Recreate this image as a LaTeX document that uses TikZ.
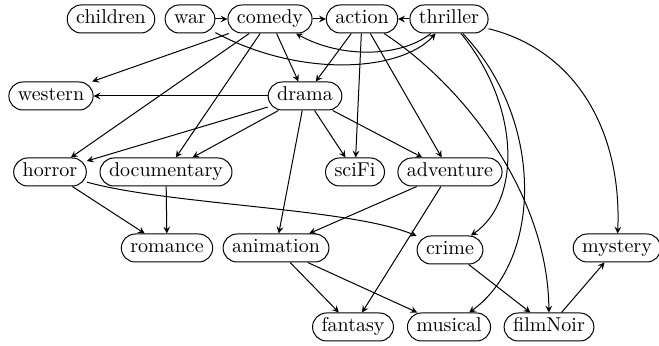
\documentclass[tikz,border=0pt]{standalone}
\begin{document}
\begin{tikzpicture}[x=0.5pt,y=-0.5pt]
	\tikzset{g/.style={draw,rectangle,rounded corners=7pt,minimum height=14pt,inner xsep=4.5pt,inner ysep=2.5pt,text height=7pt,text depth=2pt,line width=0.5pt}}
	\useasboundingbox(0,0)rectangle(659,346);
	%%Hàng trên
	\path(111,19)node[g](children){children}(190,19)node[g](war){war}(270,19)node[g](comedy){comedy}(362,19)node[g](action){action}(449,19)node[g](thriller){thriller};
	\path(51,96)node[g](western){western}(305,96)node[g](drama){drama};
	\path(50,172)node[g](horror){horror}(166,172)node[g](documentary){documentary}(355,172)node[g](sciFi){sciFi}(450,172)node[g](adventure){adventure};
	\path(167,248)node[g](romance){romance}(276,248)node[g](animation){animation}(450,250)node[g](crime){crime}(617,248)node[g](mystery){mystery};
	\path(353,327)node[g](fantasy){fantasy}(449,327)node[g](musical){musical}(549,327)node[g](filmNoir){filmNoir};
	\foreach \x/\y in {
		war/comedy,comedy/action,thriller/action,
		comedy/western,comedy/horror,comedy/documentary,comedy/drama,
		action/drama,action/sciFi,action/adventure,
		drama/western,drama/horror,drama/documentary,drama/sciFi,drama/adventure,drama/animation,
		horror/romance,documentary/romance,
		adventure/animation,adventure/fantasy,
		animation/fantasy,animation/musical,
		crime/filmNoir,filmNoir/mystery}
	\draw[-stealth,line width=0.5pt](\x)--(\y);
	%%Cung cong
	\draw[-stealth,line width=0.5pt](war)..controls(300,78)and(400,72)..(thriller);
	\draw[-stealth,line width=0.5pt](thriller)..controls(400,58)and(340,58)..(comedy);
	\draw[-stealth,line width=0.5pt](action)..controls(470,90)and(548,200)..(filmNoir);
	\draw[-stealth,line width=0.5pt](thriller)..controls(520,105)and(522,200)..(crime);
	\draw[-stealth,line width=0.5pt](thriller)..controls(545,120)and(542,260)..(musical);
	\draw[-stealth,line width=0.5pt](thriller)..controls(575,50)and(622,130)..(mystery);
	\draw[-stealth,line width=0.5pt](horror)..controls(170,205)and(350,208)..(crime);
\end{tikzpicture}
\end{document}
